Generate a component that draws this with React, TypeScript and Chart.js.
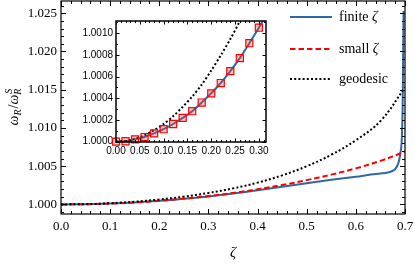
import React, { useEffect, useRef } from 'react';
import { Chart, registerables } from 'chart.js';
Chart.register(...registerables);

// ---------- main panel data ----------
const zetaFinite = [0, 0.05, 0.1, 0.15, 0.2, 0.25, 0.3, 0.35, 0.4, 0.45, 0.5, 0.55, 0.6, 0.63, 0.65, 0.66, 0.672, 0.68, 0.686, 0.69, 0.693, 0.695, 0.696, 0.697];
const finiteVals = [1.0, 1.00003, 1.00012, 1.00026, 1.00047, 1.00073, 1.00105, 1.00142, 1.00185, 1.0023, 1.00278, 1.00322, 1.00362, 1.0039, 1.00405, 1.00412, 1.0043, 1.0046, 1.0053, 1.0064, 1.008, 1.012, 1.018, 1.0253];

const zetaSmall = [0, 0.05, 0.1, 0.15, 0.2, 0.25, 0.3, 0.35, 0.4, 0.45, 0.5, 0.55, 0.6, 0.65, 0.7];
const smallVals = [1.0, 1.00003, 1.00012, 1.00027, 1.00048, 1.00076, 1.0011, 1.0015, 1.00198, 1.00254, 1.00318, 1.0039, 1.00472, 1.0057, 1.0069];

const zetaGeo = [0, 0.05, 0.1, 0.15, 0.2, 0.25, 0.3, 0.35, 0.4, 0.45, 0.5, 0.55, 0.6, 0.65, 0.7];
const geoVals = [1.0, 1.00004, 1.00016, 1.00036, 1.00065, 1.00102, 1.0015, 1.0021, 1.00285, 1.0038, 1.005, 1.0065, 1.0084, 1.0109, 1.0153];

const mainXTicks = [0, 0.1, 0.2, 0.3, 0.4, 0.5, 0.6, 0.7];
const mainYTicks = [1.0, 1.005, 1.01, 1.015, 1.02, 1.025];

// ---------- inset data ----------
const insetZetaFinite = [0, 0.02, 0.04, 0.06, 0.08, 0.1, 0.12, 0.14, 0.16, 0.18, 0.2, 0.22, 0.24, 0.26, 0.28, 0.3, 0.32];
const insetFiniteVals = [1.0, 1.000003, 1.00002, 1.000042, 1.000075, 1.000114, 1.000162, 1.000218, 1.00028, 1.00036, 1.000445, 1.00054, 1.00065, 1.00077, 1.000907, 1.00105, 1.0012];

const insetZetaSquares = [0, 0.02, 0.04, 0.06, 0.08, 0.1, 0.12, 0.14, 0.16, 0.18, 0.2, 0.22, 0.24, 0.26, 0.28, 0.3];
const insetSquareVals = [1.0, 1.000003, 1.00002, 1.000042, 1.000075, 1.000114, 1.000162, 1.000218, 1.00028, 1.00036, 1.000445, 1.00054, 1.00065, 1.00077, 1.000907, 1.00105];

const insetZetaGeo = [0, 0.02, 0.04, 0.06, 0.08, 0.1, 0.12, 0.14, 0.16, 0.18, 0.2, 0.22, 0.24, 0.26, 0.28];
const insetGeoVals = [1.0, 1.000006, 1.000026, 1.000058, 1.000105, 1.000162, 1.000233, 1.00032, 1.000415, 1.000525, 1.000655, 1.000795, 1.000945, 1.00111, 1.00129];

const insetXTicks = [0, 0.05, 0.1, 0.15, 0.2, 0.25, 0.3];
const insetYTicks = [1.0, 1.0002, 1.0004, 1.0006, 1.0008, 1.001];

const legendLabels = ['finite ζ', 'small ζ', 'geodesic'];

const BLUE = '#2d69a6';
const RED = '#ff0000';
const BLACK = '#000000';

const pts = (xs: number[], ys: number[]) => xs.map((x, i) => ({ x, y: ys[i] }));

const frameTicks = {
  id: 'frameTicks',
  beforeDraw(chart: any, _a: any, opts: any) {
    const { ctx, chartArea: a } = chart;
    ctx.save();
    if (opts.bgAll) {
      ctx.fillStyle = '#fff';
      ctx.fillRect(0, 0, chart.width, chart.height);
    }
    ctx.fillStyle = '#fff';
    ctx.fillRect(a.left, a.top, a.right - a.left, a.bottom - a.top);
    ctx.restore();
  },
  afterDraw(chart: any, _a: any, opts: any) {
    const { ctx, chartArea: a, scales } = chart;
    const xs = scales.x;
    const ys = scales.y;
    ctx.save();
    ctx.strokeStyle = '#000';
    ctx.lineWidth = opts.tickWidth || 1;
    const isMajor = (v: number, m: number) => Math.abs(v / m - Math.round(v / m)) < 1e-6;
    const gen = (min: number, max: number, step: number) => {
      const out: number[] = [];
      let k = Math.ceil(min / step - 1e-9);
      while (k * step <= max + 1e-12) {
        out.push(k * step);
        k++;
      }
      return out;
    };
    ctx.beginPath();
    for (const v of gen(xs.min, xs.max, opts.xMinor)) {
      const len = isMajor(v, opts.xMajor) ? opts.major : opts.minor;
      const px = Math.round(xs.getPixelForValue(v)) + 0.5;
      ctx.moveTo(px, a.bottom);
      ctx.lineTo(px, a.bottom - len);
      ctx.moveTo(px, a.top);
      ctx.lineTo(px, a.top + len);
    }
    for (const v of gen(ys.min, ys.max, opts.yMinor)) {
      const len = isMajor(v, opts.yMajor) ? opts.major : opts.minor;
      const py = Math.round(ys.getPixelForValue(v)) + 0.5;
      ctx.moveTo(a.left, py);
      ctx.lineTo(a.left + len, py);
      ctx.moveTo(a.right, py);
      ctx.lineTo(a.right - len, py);
    }
    ctx.stroke();
    ctx.lineWidth = opts.frameWidth || 1;
    ctx.strokeRect(a.left, a.top, a.right - a.left, a.bottom - a.top);
    ctx.restore();
  },
};

const mainDecor = {
  id: 'mainDecor',
  afterDraw(chart: any) {
    const { ctx, chartArea: a } = chart;
    ctx.save();
    // x title
    ctx.fillStyle = '#000';
    ctx.font = 'italic 15px "Liberation Serif"';
    ctx.textAlign = 'center';
    ctx.textBaseline = 'alphabetic';
    ctx.fillText('ζ', (a.left + a.right) / 2, 257);
    // y title
    ctx.translate(18, (a.top + a.bottom) / 2);
    ctx.rotate(-Math.PI / 2);
    const big = 'italic 14px "Liberation Serif"';
    const small = 'italic 10px "Liberation Serif"';
    const upright = '14px "Liberation Serif"';
    const parts = [
      { t: 'ω', f: big, dy: 0 },
      { t: 'R', f: small, dy: 3 },
      { t: '/', f: upright, dy: 0 },
      { t: 'ω', f: big, dy: 0 },
      { t: 'R', f: small, dy: 3 },
    ];
    let total = 0;
    const widths = parts.map((p) => {
      ctx.font = p.f;
      const w = ctx.measureText(p.t).width;
      total += w;
      return w;
    });
    let x = -total / 2;
    ctx.textAlign = 'left';
    let lastX = 0;
    parts.forEach((p, i) => {
      ctx.font = p.f;
      ctx.fillText(p.t, x, p.dy);
      lastX = x;
      x += widths[i] + (i === 1 ? 1 : 0);
    });
    ctx.font = small;
    ctx.fillText('S', lastX + 1, -6);
    ctx.restore();

    // legend
    ctx.save();
    const rows = [
      { y: 17, color: BLUE, dash: [] as number[] },
      { y: 49, color: RED, dash: [5.5, 3] },
      { y: 79, color: BLACK, dash: [2, 2.2] },
    ];
    rows.forEach((r, i) => {
      ctx.beginPath();
      ctx.strokeStyle = r.color;
      ctx.lineWidth = 2;
      ctx.setLineDash(r.dash);
      ctx.moveTo(290, r.y);
      ctx.lineTo(332, r.y);
      ctx.stroke();
      ctx.setLineDash([]);
      ctx.fillStyle = '#000';
      ctx.font = '14px "Liberation Serif"';
      ctx.textAlign = 'left';
      ctx.textBaseline = 'middle';
      const lbl = legendLabels[i];
      if (lbl.endsWith('ζ')) {
        const base = lbl.slice(0, -1);
        ctx.fillText(base, 339, r.y);
        const w = ctx.measureText(base).width;
        ctx.font = 'italic 14px "Liberation Serif"';
        ctx.fillText('ζ', 339 + w, r.y);
      } else {
        ctx.fillText(lbl, 339, r.y);
      }
    });
    ctx.restore();
  },
};

const noPadX = (h: number) => (s: any) => {
  s.height = h;
  s.paddingLeft = 0;
  s.paddingRight = 0;
};
const noPadY = (w: number) => (s: any) => {
  s.width = w;
  s.paddingTop = 0;
  s.paddingBottom = 0;
};

export default function App() {
  const mainRef = useRef<HTMLCanvasElement>(null);
  const insetRef = useRef<HTMLCanvasElement>(null);

  useEffect(() => {
    const serifTick = { family: '"Liberation Serif"', size: 13 };
    const sansTick = { family: '"Liberation Sans"', size: 10 };

    const main = new Chart(mainRef.current!, {
      type: 'line',
      data: {
        datasets: [
          {
            label: legendLabels[0],
            data: pts(zetaFinite, finiteVals),
            borderColor: BLUE,
            borderWidth: 2,
            pointRadius: 0,
            tension: 0.3,
            order: 3,
          },
          {
            label: legendLabels[1],
            data: pts(zetaSmall, smallVals),
            borderColor: RED,
            borderWidth: 2,
            borderDash: [5.5, 3],
            pointRadius: 0,
            tension: 0.4,
            order: 2,
          },
          {
            label: legendLabels[2],
            data: pts(zetaGeo, geoVals),
            borderColor: BLACK,
            borderWidth: 2,
            borderDash: [2, 2.2],
            pointRadius: 0,
            tension: 0.4,
            order: 1,
          },
        ],
      },
      options: {
        animation: false,
        responsive: false,
        devicePixelRatio: 1,
        layout: { padding: { left: 0, right: 10, top: 1, bottom: 0 } },
        plugins: {
          legend: { display: false },
          tooltip: { enabled: false },
          frameTicks: { xMinor: 0.02, xMajor: 0.1, yMinor: 0.001, yMajor: 0.005, major: 5, minor: 3, tickWidth: 1, frameWidth: 1.2, bgAll: true },
        } as any,
        scales: {
          x: {
            type: 'linear',
            min: 0,
            max: 0.7,
            grid: { display: false, drawTicks: false },
            border: { display: false },
            afterFit: noPadX(49),
            afterBuildTicks: (s: any) => { s.ticks = mainXTicks.map((v) => ({ value: v })); },
            ticks: { font: serifTick, color: '#000', padding: 5, maxRotation: 0, callback: (v: any) => Number(v).toFixed(1) },
          },
          y: {
            type: 'linear',
            min: 0.99875,
            max: 1.0266,
            grid: { display: false, drawTicks: false },
            border: { display: false },
            afterFit: noPadY(61),
            afterBuildTicks: (s: any) => { s.ticks = mainYTicks.map((v) => ({ value: v })); },
            ticks: { font: serifTick, color: '#000', padding: 4, callback: (v: any) => Number(v).toFixed(3) },
          },
        },
      },
      plugins: [frameTicks, mainDecor],
    });

    const inset = new Chart(insetRef.current!, {
      type: 'line',
      data: {
        datasets: [
          {
            label: 'finite',
            data: pts(insetZetaFinite, insetFiniteVals),
            borderColor: BLUE,
            borderWidth: 2,
            pointRadius: 0,
            tension: 0.3,
            clip: 0,
            order: 3,
          },
          {
            label: 'small',
            data: pts(insetZetaSquares, insetSquareVals),
            borderColor: RED,
            backgroundColor: 'rgba(255,60,60,0.3)',
            showLine: false,
            pointStyle: 'rect',
            pointRadius: 5,
            pointBorderWidth: 1.2,
            pointBorderColor: RED,
            pointBackgroundColor: 'rgba(255,60,60,0.3)',
            clip: 4,
            order: 1,
          },
          {
            label: 'geo',
            data: pts(insetZetaGeo, insetGeoVals),
            borderColor: BLACK,
            borderWidth: 2,
            borderDash: [2, 2.2],
            pointRadius: 0,
            tension: 0.3,
            clip: 0,
            order: 2,
          },
        ],
      },
      options: {
        animation: false,
        responsive: false,
        devicePixelRatio: 1,
        layout: { padding: { left: 0, right: 9, top: 11, bottom: 0 } },
        plugins: {
          legend: { display: false },
          tooltip: { enabled: false },
          frameTicks: { xMinor: 0.01, xMajor: 0.05, yMinor: 0.0001, yMajor: 0.0002, major: 3.5, minor: 2, tickWidth: 1, frameWidth: 1.5 },
        } as any,
        scales: {
          x: {
            type: 'linear',
            min: 0,
            max: 0.315,
            grid: { display: false, drawTicks: false },
            border: { display: false },
            afterFit: noPadX(28),
            afterBuildTicks: (s: any) => { s.ticks = insetXTicks.map((v) => ({ value: v })); },
            ticks: { font: sansTick, color: '#000', padding: 3, maxRotation: 0, autoSkip: false, callback: (v: any) => Number(v).toFixed(2) },
          },
          y: {
            type: 'linear',
            min: 0.999996,
            max: 1.001112,
            grid: { display: false, drawTicks: false },
            border: { display: false },
            afterFit: noPadY(56),
            afterBuildTicks: (s: any) => { s.ticks = insetYTicks.map((v) => ({ value: v })); },
            ticks: { font: sansTick, color: '#000', padding: 3, autoSkip: false, callback: (v: any) => Number(v).toFixed(4) },
          },
        },
      },
      plugins: [frameTicks],
    });

    return () => {
      main.destroy();
      inset.destroy();
    };
  }, []);

  return (
    <div style={{ position: 'fixed', left: 0, top: 0, width: 415, height: 263, background: '#fff' }}>
      <canvas ref={mainRef} width={415} height={263} style={{ position: 'absolute', left: 0, top: 0, width: 415, height: 263 }} />
      <canvas ref={insetRef} width={215} height={160} style={{ position: 'absolute', left: 60, top: 10, width: 215, height: 160 }} />
    </div>
  );
}
